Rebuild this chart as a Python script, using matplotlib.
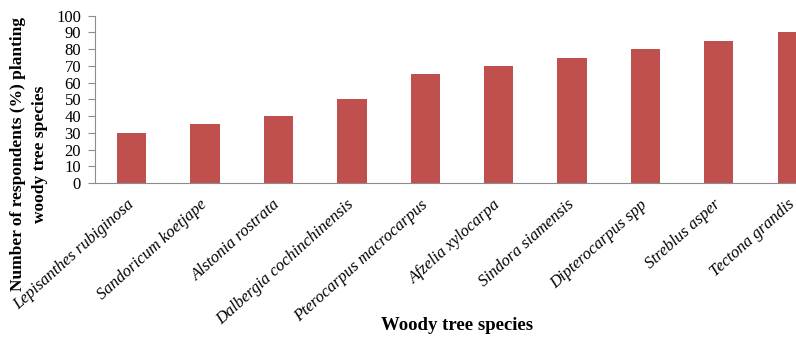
import numpy as np
import matplotlib.pyplot as plt

species = ['Lepisanthes rubiginosa', 'Sandoricum koetjape', 'Alstonia rostrata',
           'Dalbergia cochinchinensis', 'Pterocarpus macrocarpus', 'Afzelia xylocarpa',
           'Sindora siamensis', 'Dipterocarpus spp', 'Streblus asper', 'Tectona grandis']
percent = [30, 35, 40, 50, 65, 70, 75, 80, 85, 90]
yticks = list(range(0, 101, 10))

plt.rcParams['font.family'] = ['Liberation Serif', 'DejaVu Serif']

fig = plt.figure(figsize=(7.96, 3.39), dpi=100)
ax = fig.add_axes([0.1193, 0.460, 0.922, 0.4937])

x = np.arange(len(species))
ax.bar(x, percent, width=0.4, color='#C0504D', edgecolor='none')

ax.set_xlim(-0.5, len(species) - 0.5)
ax.set_ylim(0, 100)
ax.set_yticks(yticks)
ax.set_yticklabels([str(t) for t in yticks], fontsize=12)
ax.set_xticks(x)
ax.set_xticklabels(species, rotation=42, ha='right', va='center',
                   rotation_mode='anchor', fontsize=12, style='italic')

for s in ['top', 'right']:
    ax.spines[s].set_visible(False)
for s in ['left', 'bottom']:
    ax.spines[s].set_color('#8c8c8c')
ax.tick_params(axis='y', length=5, color='#8c8c8c', pad=5)
ax.tick_params(axis='x', length=0, pad=14)

fig.text(0.036, 0.545, 'Number of respondents (%) planting\nwoody tree species',
         rotation=90, ha='center', va='center', fontsize=12.5, fontweight='bold',
         linespacing=1.5)
fig.text(0.574, 0.04, 'Woody tree species', ha='center', va='center',
         fontsize=13.5, fontweight='bold')

fig.savefig('out.png', dpi=100)
